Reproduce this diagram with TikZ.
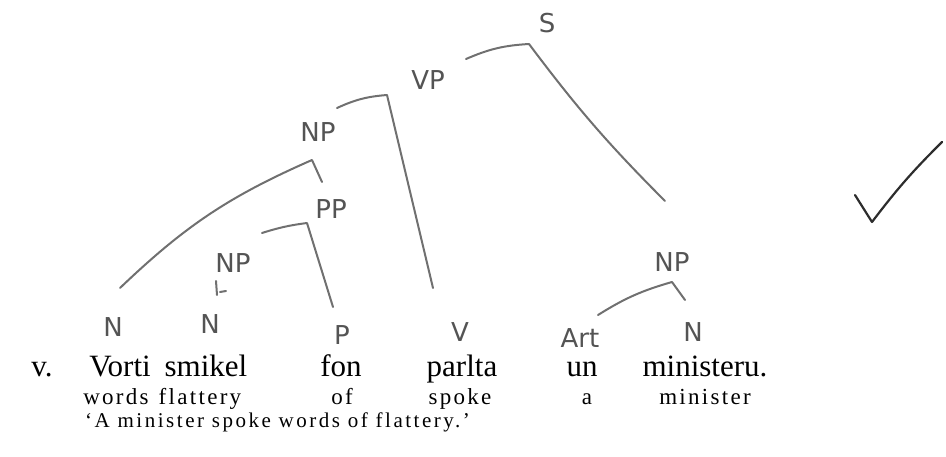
\documentclass[tikz,border=0pt]{standalone}
\usepackage{fontspec}
\setmainfont{Liberation Serif}
\newfontfamily\handfont{DejaVu Sans}
\newfontfamily\glossfont[LetterSpace=10]{Liberation Serif}
\newfontfamily\transfont[LetterSpace=12]{Liberation Serif}
\usetikzlibrary{positioning}
\definecolor{pencil}{RGB}{112,112,112}
\definecolor{ink}{RGB}{45,45,45}

\begin{document}
\begin{tikzpicture}[x=1pt, y=-1pt,
    hand/.style={draw=pencil, line width=2pt, line cap=round, line join=round},
    cat/.style={text=pencil!75!black, font=\handfont\fontsize{26}{26}\selectfont, inner sep=0pt},
    word/.style={font=\fontsize{31}{31}\selectfont, anchor=base, inner sep=0pt},
    gl/.style={font=\glossfont\fontsize{23}{23}\selectfont, anchor=base, inner sep=0pt}]
    \useasboundingbox (0,0) rectangle (946,457);

    % Gedruckte Zeile
    \node[word] (nr)   at (42,377)  {v.};
    \node[word] (w1)   at (120,377) {Vorti};
    \node[word] (w2)   at (206,377) {smikel};
    \node[word] (w3)   at (341,377) {fon};
    \node[word] (w4)   at (462,377) {parlta};
    \node[word] (w5)   at (582,377) {un};
    \node[word] (w6)   at (705,377) {ministeru.};

    % Glossen
    \node[gl] (g1) at (116,404) {words};
    \node[gl] (g2) at (200,404) {flattery};
    \node[gl] (g3) at (342,404) {of};
    \node[gl] (g4) at (460,404) {spoke};
    \node[gl] (g5) at (587,404) {a};
    \node[gl] (g6) at (705,404) {minister};
    \node[gl, anchor=base west, font=\transfont\fontsize{21}{21}\selectfont] (tr) at (85,427)
        {‘A minister spoke words of flattery.’};

    % Kategorien (Bleistift)
    \node[cat] (cS)   at (547,23)  {S};
    \node[cat] (cVP)  at (428,80)  {VP};
    \node[cat] (cNPa) at (318,132) {NP};
    \node[cat] (cPP)  at (331,209) {PP};
    \node[cat] (cNPb) at (233,263) {NP};
    \node[cat] (cNPc) at (672,262) {NP};
    \node[cat] (cNa)  at (113,327) {N};
    \node[cat] (cNb)  at (210,324) {N};
    \node[cat] (cP)   at (342,335) {P};
    \node[cat] (cV)   at (460,332) {V};
    \node[cat] (cArt) at (580,338) {Art};
    \node[cat] (cNc)  at (693,332) {N};

    % Klammern
    \coordinate (sL) at (466,59);   \coordinate (sT) at (529,44);   \coordinate (sR) at (665,201);
    \coordinate (vpL) at (337,108); \coordinate (vpT) at (387,95);  \coordinate (vpR) at (433,288);
    \coordinate (npL) at (120,288); \coordinate (npT) at (312,160); \coordinate (npR) at (322,182);
    \coordinate (ppL) at (262,233); \coordinate (ppT) at (307,223); \coordinate (ppR) at (333,307);
    \coordinate (ncL) at (598,315); \coordinate (ncT) at (672,282); \coordinate (ncR) at (685,300);
    \coordinate (nbT) at (216,281); \coordinate (nbB) at (217,295);

    \draw[hand] (sL) to[bend left=10] (sT) to[bend right=4] (sR);
    \draw[hand] (vpL) to[bend left=10] (vpT) -- (vpR);
    \draw[hand] (npL) to[bend left=10] (npT) -- (npR);
    \draw[hand] (ppL) to[bend left=5] (ppT) -- (ppR);
    \draw[hand] (ncL) to[bend left=8] (ncT) -- (ncR);
    \draw[hand] (nbT) -- (nbB);
    \draw[hand] (220,292) -- (226,291);

    % Haken
    \coordinate (hA) at (855,195); \coordinate (hB) at (872,222); \coordinate (hC) at (942,142);
    \draw[ink, line width=2.2pt, line cap=round, line join=round] (hA) -- (hB) to[bend left=4] (hC);
\end{tikzpicture}
\end{document}
